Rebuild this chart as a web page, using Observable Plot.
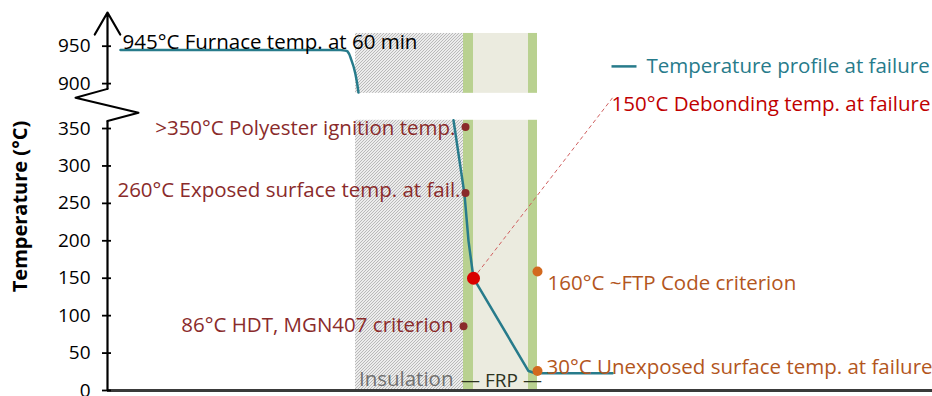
<!DOCTYPE html>
<html><head><meta charset="utf-8">
<script src="https://cdn.jsdelivr.net/npm/d3@7"></script>
<script src="https://cdn.jsdelivr.net/npm/@observablehq/plot@0.6"></script>
<style>
body{margin:0;background:#fff;}
#chart{width:932px;height:396px;overflow:hidden;}
</style></head><body><div id="chart"></div>
<script>
// ---- data ----
const yTicks = [0, 50, 100, 150, 200, 250, 300, 350, 900, 950];
// temperature profile (x = through-thickness position, arbitrary units; t = °C)
const furnaceX = [13, 233, 240, 244, 251];
const furnaceT = [945, 945, 943, 931, 888];
const sectionX = [346, 357, 361, 366, 421, 428, 505];
const sectionT = [361, 262, 200, 150, 26, 23, 23];
// layers
const layerKind = ["insulation", "skin", "core", "skin"];
const layerX1 = [248, 356, 366, 421];
const layerX2 = [356, 366, 421, 430];
const upperT = [887, 967];
const lowerT = [0, 361];
// marked points
const markKind = ["ign", "exp", "hdt", "deb", "ftp", "unexp"];
const markX = [358, 358, 356, 366, 430, 430];
const markT = [352, 264, 86, 150, 159, 26];
// annotations
const noteText = [">350°C Polyester ignition temp.", "260°C Exposed surface temp. at fail.", "86°C HDT, MGN407 criterion", "160°C ~FTP Code criterion", "30°C Unexposed surface temp. at failure"];
const noteX = [348, 353, 346, 440, 439];
const noteT = [350, 267, 87, 143, 31];
const noteSide = ["end", "end", "end", "start", "start"];
const furnaceNote = "945°C Furnace temp. at 60 min";
const debondNote = "150°C Debonding temp. at failure";
const legendText = "Temperature profile at failure";

// ---- broken axis helper ----
const GAP = 490;
const brk = t => t >= 800 ? t - GAP : t;
const unbrk = v => v >= 400 ? v + GAP : v;

const layers = [];
layerKind.forEach((k, i) => {
  for (const [a, b] of [upperT, lowerT]) layers.push({kind: k, x1: layerX1[i], x2: layerX2[i], y1: brk(a), y2: brk(b)});
});
const furnace = furnaceX.map((x, i) => ({x, y: brk(furnaceT[i])}));
const section = sectionX.map((x, i) => ({x, y: brk(sectionT[i])}));
const marks = markKind.map((k, i) => ({kind: k, x: markX[i], y: brk(markT[i])}));
const notes = noteText.map((s, i) => ({s, x: noteX[i], y: brk(noteT[i]), side: noteSide[i]}));
const zig = [{x: 0, y: 403}, {x: -32, y: 391}, {x: 31, y: 371}, {x: 0, y: 360}];

const teal = "#277b8b";
const darkRed = "#8a2b2b";
const orangeTxt = "#b3561d";
const FONT = "Open Sans";
const FS = 20.5;

const svg = Plot.plot({
  width: 932, height: 396,
  marginLeft: 107, marginRight: 0, marginTop: 12, marginBottom: 6,
  x: {domain: [0, 825], axis: null},
  y: {domain: [0, 505], axis: null},
  style: {fontFamily: FONT, color: "#000", background: "#fff", overflow: "visible"},
  marks: [
    Plot.rect(layers.filter(d => d.kind === "insulation"), {x1: "x1", x2: "x2", y1: "y1", y2: "y2", fill: "url(#hatch)"}),
    Plot.rect(layers.filter(d => d.kind === "core"), {x1: "x1", x2: "x2", y1: "y1", y2: "y2", fill: "#ebebdf"}),
    Plot.rect(layers.filter(d => d.kind === "skin"), {x1: "x1", x2: "x2", y1: "y1", y2: "y2", fill: "#b9d190"}),
    // axes
    Plot.ruleY([0], {stroke: "#3a3a3a", strokeWidth: 3}),
    Plot.ruleX([0], {y1: 0, y2: 360, stroke: "#000", strokeWidth: 2.2}),
    Plot.arrow([{x: 0, y1: 403, y2: 505}], {x1: "x", x2: "x", y1: "y1", y2: "y2", stroke: "#000", strokeWidth: 2.2, headLength: 18, headAngle: 60}),
    Plot.line(zig, {x: "x", y: "y", stroke: "#000", strokeWidth: 2}),
    Plot.ruleY(yTicks.map(brk), {x1: -5, x2: 4, stroke: "#000", strokeWidth: 1.8}),
    Plot.axisY(yTicks.map(brk), {anchor: "left", tickSize: 0, tickPadding: 17, tickFormat: d => unbrk(d), fontSize: 19, fill: "#000"}),
    Plot.text(["Temperature (°C)"], {frameAnchor: "left", textAnchor: "middle", rotate: -90, dx: -87, dy: 5, fontWeight: "bold", fontSize: 20, fill: "#000"}),
    // leader
    Plot.link([{x1: 366, y1: brk(150), x2: 505, y2: 391}], {x1: "x1", y1: "y1", x2: "x2", y2: "y2", stroke: "#d06060", strokeWidth: 1, strokeDasharray: "4,3"}),
    // profile
    Plot.line(furnace, {x: "x", y: "y", stroke: teal, strokeWidth: 2.5, curve: "monotone-y"}),
    Plot.line(section, {x: "x", y: "y", stroke: teal, strokeWidth: 2.5}),
    // points
    Plot.dot(marks.filter(d => ["ign", "exp", "hdt"].includes(d.kind)), {x: "x", y: "y", r: 4, fill: darkRed}),
    Plot.dot(marks.filter(d => ["ftp", "unexp"].includes(d.kind)), {x: "x", y: "y", r: 5, fill: "#d2691e"}),
    Plot.dot(marks.filter(d => d.kind === "deb"), {x: "x", y: "y", r: 6.5, fill: "#d90000"}),
    // annotations
    Plot.text(notes.filter(d => d.side === "end"), {x: "x", y: "y", text: "s", textAnchor: "end", fontSize: FS, fill: darkRed}),
    Plot.text(notes.filter(d => d.side === "start"), {x: "x", y: "y", text: "s", textAnchor: "start", fontSize: FS, fill: orangeTxt}),
    Plot.text([furnaceNote], {x: 15, y: brk(955), text: d => d, textAnchor: "start", fontSize: FS, fill: "#000"}),
    Plot.text([debondNote], {x: 504, y: 382, text: d => d, textAnchor: "start", fontSize: FS, fill: "#c00000"}),
    Plot.link([{x1: 504, x2: 529, y: brk(923)}], {x1: "x1", x2: "x2", y1: "y", y2: "y", stroke: teal, strokeWidth: 2.5}),
    Plot.text([legendText], {x: 539, y: brk(923), text: d => d, textAnchor: "start", fontSize: FS, fill: teal}),
    Plot.text(["Insulation"], {x: 346, y: 15, text: d => d, textAnchor: "end", fontSize: FS, fill: "#707070"}),
    Plot.text(["— FRP —"], {x: 394, y: 13, text: d => d, textAnchor: "middle", fontSize: 19, fill: "#2c331f"})
  ]
});

const defs = d3.select(svg).insert("defs", ":first-child");
const pat = defs.append("pattern").attr("id", "hatch").attr("patternUnits", "userSpaceOnUse").attr("width", 3).attr("height", 3);
pat.append("rect").attr("width", 3).attr("height", 3).attr("fill", "#ececec");
pat.append("path").attr("d", "M-1,1 l2,-2 M0,3 l3,-3 M2,4 l2,-2").attr("stroke", "#a4a4a4").attr("stroke-width", 0.7);

document.getElementById("chart").appendChild(svg);
</script></body></html>
